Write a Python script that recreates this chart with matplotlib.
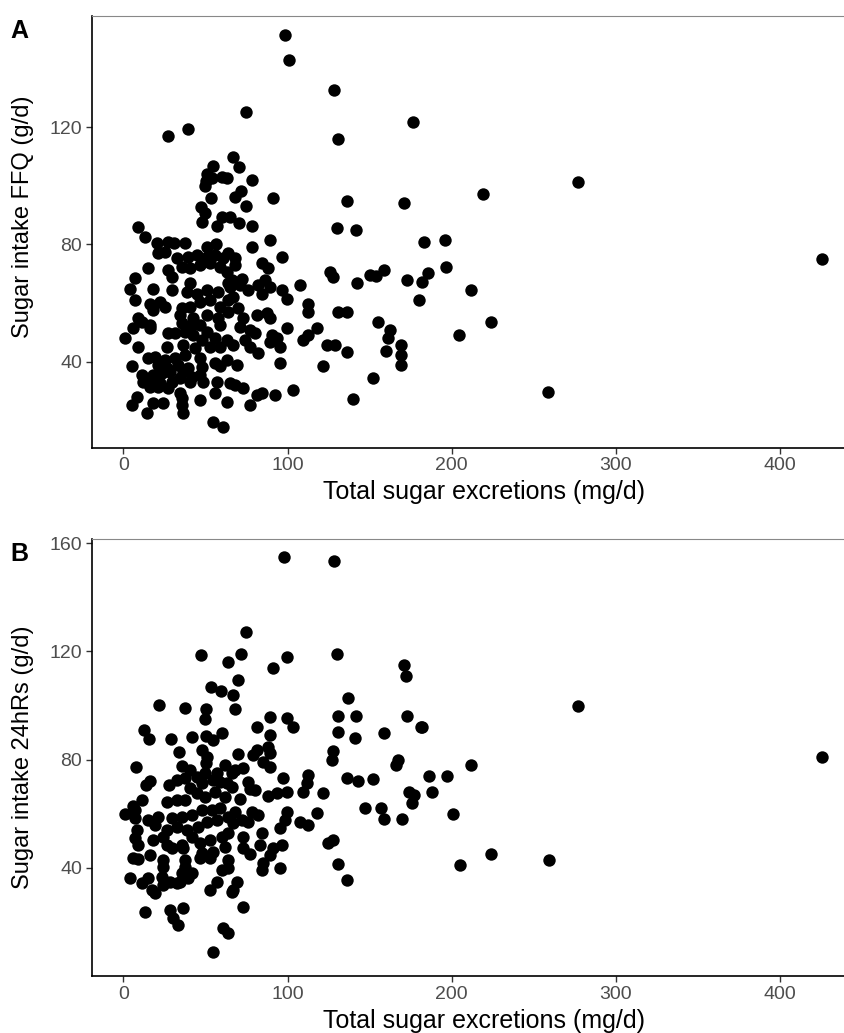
import matplotlib
matplotlib.use('Agg')
import matplotlib.pyplot as plt

plt.rcParams['font.family'] = ['Liberation Sans', 'DejaVu Sans']

# %% data: panel A, total sugar excretion (mg/d) vs FFQ sugar intake (g/d)
ffq_excretion = [
    27.4, 39.6, 54.8, 51.2, 53.8, 59.9, 49.7, 50.3, 53.4, 47.3, 49.7, 47.7, 59.9, 56.8, 9.1, 13.2, 20.3, 27.4, 30.9, 37.6, 51.2, 56.4,
    128.3, 74.7, 131, 67, 70.5, 63, 78.6, 71.5, 68.2, 91, 74.7, 65, 70.5, 78.2, 130, 89.4, 78.6, 136.5, 98.5, 100.9,
    21.3, 25.4, 32.5, 39.6, 44.7, 50.8, 55.8, 60.9, 63.9,
    15.2, 27.4, 29.4, 35.5, 40.6, 46.7, 52.8, 58.9, 62.9,
    7.1, 4.1, 18.3, 29.4, 40.6, 38.6, 44.7, 50.8, 57.9, 63.9,
    7.1, 16.2, 22.3, 25.4, 35.5, 40.6, 46.7, 52.8, 58.9, 63.9,
    18.3, 34.5, 42.6, 50.8, 57.9, 63.9,
    9.1, 11.2, 16.2, 6.1, 16.2, 35.5, 41.6, 46.7, 50.8, 58.9,
    1.0, 27.4, 31.5, 37.6, 42.6, 47.7, 55.8, 62.9,
    9.1, 26.4, 36.5, 43.6, 52.8, 58.9,
    15.2, 19.3, 25.4, 31.5, 37.6, 46.7, 55.8, 62.9,
    5.1, 21.3, 26.4, 33.5, 39.6, 47.7, 58.9,
    11.2, 18.3, 23.3, 28.4, 36.5, 41.6, 46.7,
    12.2, 17.3, 22.3, 29.4, 34.5, 40.6, 48.7, 56.8,
    16.2, 21.3, 27.4, 55.8, 65,
    8.1, 34.5, 35.5, 46.7,
    5.1, 18.3, 24.4, 35.5, 36.5, 14.2, 54.8, 60.9,
    68, 68, 96.5, 84.3, 88.3, 125.9, 127.9, 66, 72.1, 65, 71.1, 76.2, 82.2, 86.3, 89.4, 107.6, 96.5, 99.5, 84.3, 67,
    70.1, 73.1, 81.2, 87.3, 89.4, 112.7, 112.7, 131, 136, 71.1, 77.2, 80.2, 99.5, 90.4, 93.4, 109.7, 112.7, 117.8,
    67, 74.1, 77.2, 89.4, 95.4, 123.9, 128.9, 136, 69.1, 82.2, 95.4, 121.8, 68, 73.1, 81.2, 84.3, 92.4, 103.6, 63, 77.2,
    139.9, 141.9, 142.5, 150.3, 154, 159, 155, 162.2, 161.3, 169, 169, 169, 160, 152, 171, 172.8, 176.6, 180, 181.6,
    185.3, 183, 196.6, 196, 219, 211.7, 204.6, 224, 258.9, 277, 425.3,
]
ffq_intake = [
    116.9, 119.3, 106.7, 103.9, 102.5, 102.9, 99.9, 101.5, 95.7, 92.7, 90.8, 87.8, 89.5, 86.3, 86.1, 82.7, 80.4, 81, 80.6, 80.6, 79.3, 80.2,
    132.6, 125, 115.9, 109.9, 106.3, 102.5, 102.1, 98.3, 96.3, 95.9, 93.1, 89.5, 87.4, 86.3, 85.6, 81.5, 79.3, 94.9, 151.3, 142.8,
    77, 77.5, 75.3, 75.8, 76.4, 75.8, 76.4, 75.3, 77,
    71.9, 71.3, 69, 72.4, 71.9, 73, 73.6, 72.4, 70.7,
    68.5, 65, 65, 64.5, 66.8, 63.9, 63.3, 64.5, 63.9, 66.8,
    61.1, 59.9, 60.5, 58.8, 58.2, 58.8, 60.5, 61.1, 58.8, 61.1,
    57.7, 56, 54.8, 56, 54.8, 57.1,
    54.8, 53.7, 52.6, 51.4, 51.4, 53.1, 52.6, 52.6, 50.3, 52.6,
    48, 49.7, 49.7, 50.3, 49.2, 47.5, 48, 47.5,
    45.2, 45.2, 45.8, 44.6, 45.2, 45.2,
    41.2, 41.8, 40.6, 41.2, 42.4, 41.2, 39.5, 40.6,
    38.6, 38.9, 37.8, 38.9, 37.8, 38.4, 38.6,
    35.5, 35.5, 36.1, 36.7, 36.7, 35, 35.5,
    33.3, 33.3, 32.7, 33.3, 34.4, 33.3, 33.3, 33.3,
    31.6, 31.6, 31, 29.3, 32.7,
    28.2, 29.3, 27.6, 27,
    25.3, 25.9, 26.1, 25.3, 22.5, 22.5, 19.7, 18,
    75.3, 73, 75.8, 73.6, 71.9, 70.7, 69, 67.9, 68.4, 65.6, 66.2, 64.5, 66.2, 67.9, 65.6, 66.2, 64.5, 61.6, 63.3, 62.2,
    58.2, 54.8, 56, 56.5, 54.8, 59.9, 57.1, 57.1, 57.1, 52, 50.9, 49.7, 51.4, 49.2, 48, 47.5, 49.2, 51.4,
    45.7, 47.5, 45.2, 46.9, 45.2, 45.7, 45.7, 43.5, 38.9, 42.9, 39.5, 38.6, 32.1, 31, 28.7, 29.3, 28.7, 30.4, 26.4, 25.3,
    27.4, 85, 66.9, 69.6, 69.3, 71.3, 53.6, 50.9, 48.2, 45.8, 42.4, 39, 43.7, 34.5, 94.1, 68, 121.7, 61.2, 67.2,
    70.3, 80.8, 72.3, 81.6, 97.2, 64.5, 49.2, 53.6, 29.8, 101.3, 75,
]

# %% data: panel B, total sugar excretion (mg/d) vs 24-h recall sugar intake (g/d)
hr_excretion = [
    47.1, 64, 53.2, 59.3, 21.9, 37.6, 50.3, 50, 12.8, 15.8, 29, 41.8, 50.3, 54.8, 60.1,
    98.1, 128.3, 74.7, 71.5, 99.9, 91, 130, 70.1, 67, 68, 136.6, 89.4, 99.5, 103.2, 81.2, 89.4, 131, 131,
    33.9, 47.7, 50.8, 50.3,
    7.5, 35.5, 40.6, 44.7, 49.7, 56.8, 61.9,
    16.2, 13.6, 28, 32.5, 37.6, 40.6, 47.7, 54.8, 62.9,
    11.2, 5.7, 1.0, 7.1, 26.4, 32.5, 37.6, 44.7, 49.7, 55.8, 61.9,
    7.1, 15.2, 21.3, 19.3, 29.4, 35.5, 41.6, 47.7, 53.8, 58.9, 63.9,
    8.1, 26.4, 32.5, 38.6, 45.7, 50.8, 56.8,
    7.1, 18.3, 24.4, 26.4, 35.5, 41.6, 46.7, 52.8, 59.9, 63.9,
    9.1, 29.4, 36.5, 47.7, 54.8, 61.9,
    6.1, 9.1, 16.2, 24.4, 37.6, 46.7, 52.8, 63.9,
    24, 37.6, 41.6, 35.5, 59.9, 63.9,
    4.1, 11.2, 15.2, 23.3, 28.4, 34.5, 39.6, 56.8,
    17.3, 19.3, 24.4, 32.5, 52.8,
    13.2, 28.4, 36.5, 30.5, 33.5, 60.9, 63.9, 54.8,
    70.1, 79.2, 81.2, 88.3, 89.4, 85.3, 89.4, 127.9, 126.9,
    68, 73.1, 66, 58.9, 76.2, 97.5, 112.7, 112.1, 136,
    66, 77.2, 80.2, 88.3, 93.4, 99.5, 109.7, 121.8,
    71.1, 68, 78.2, 82.2, 99.5, 117.8,
    67, 72.1, 76.2, 107.6, 112.7, 95.4, 98.5,
    73.1, 84.3, 83.3, 96.5,
    73.1, 77.2, 91.4, 89.4, 124.9, 127.9,
    85.3, 84.3, 95.4, 131, 136,
    69.1, 66, 67, 73.1,
    142, 141, 143, 147, 152, 157, 159, 159, 166, 167, 170, 171, 172, 173, 174, 176, 177, 181, 182, 186,
    188, 197, 201, 205, 212, 224, 259, 277, 425.3,
]
hr_intake = [
    118.7, 116.2, 106.7, 105.3, 100.3, 98.9, 98.6, 95.2, 90.9, 87.8, 87.8, 88.5, 88.8, 87.2, 89.9,
    155, 153.5, 127.2, 119.2, 117.8, 114, 119.2, 109.6, 103.9, 98.6, 102.6, 95.6, 95.5, 91.9, 92.2, 89.1, 96.1, 90.1,
    83, 83.6, 81.1, 78.7,
    77.2, 77.7, 76.2, 73.7, 75, 75, 78,
    72.3, 70.7, 70.7, 72.5, 73.1, 69.4, 71.3, 72.5, 71.3,
    65.1, 62.9, 59.8, 61.4, 64.5, 65.1, 65.1, 67.6, 66.3, 68.2, 66.3,
    58.3, 57.7, 58.7, 55.9, 58.3, 59, 59.6, 61.4, 61.4, 62, 59,
    54, 54, 55.3, 54, 55.3, 57.1, 57.7,
    50.9, 50.3, 51.6, 48.5, 48.5, 51.6, 49.1, 50.3, 51.6, 52.8,
    48.5, 47.3, 47.3, 45.4, 46, 47.9,
    43.6, 43.2, 44.8, 43, 43, 43.6, 43.6, 43,
    40.5, 40.5, 38, 38, 39.3, 39.9,
    36.2, 34.3, 36.2, 36.8, 35, 35, 36.2, 35,
    31.9, 30.6, 33.7, 34.3, 31.9,
    23.9, 24.5, 25.1, 21.4, 19, 17.7, 15.9, 9.1,
    82.1, 81.7, 83.6, 84.8, 82.3, 79.3, 77.4, 83.3, 79.9,
    76.2, 76.8, 75, 71.9, 71.9, 73.1, 74.3, 71.5, 73.1,
    70, 69.1, 68.8, 66.7, 67.8, 68.2, 68.2, 67.6,
    65.5, 60.8, 60.8, 59.6, 60.8, 60.2,
    56.5, 57.7, 57.1, 57.1, 55.9, 54.7, 57.7,
    51.6, 52.8, 48.5, 48.5,
    47.3, 45.2, 47.3, 44.8, 49.1, 50.3,
    41.7, 39.3, 39.9, 41.5, 35.6,
    34.9, 31.3, 31.9, 25.4,
    96, 88, 72, 62, 73, 62, 58, 90, 78, 80, 58, 115, 111, 96, 68, 64, 67, 92, 92, 74,
    68, 74, 60, 41, 78, 45, 43, 100, 81,
]

panels = [
    ('A', ffq_excretion, ffq_intake, 'Sugar intake FFQ (g/d)', (10.8, 157.9), [40, 80, 120], 0.534),
    ('B', hr_excretion, hr_intake, 'Sugar intake 24hRs (g/d)', (0.1, 161.5), [40, 80, 120, 160], 0.5),
]
x_ticks = [0, 100, 200, 300, 400]

# %% figure
W, H = 845, 1033
fig = plt.figure(figsize=(W / 100, H / 100), dpi=100)
# panel boxes in pixels: left, top, right, bottom
boxes = [(91.8, 15.7, 876, 447.7), (91.8, 539, 876, 976)]

for (tag, xs, ys, ylab, ylim, yt, ylab_y), (l, t, r, b) in zip(panels, boxes):
    ax = fig.add_axes([l / W, 1 - b / H, (r - l) / W, (b - t) / H])
    ax.scatter(xs, ys, s=80, color='black', linewidths=0, zorder=3)
    ax.set_xlim(-19.2, (r - 123.3) / 1.642)
    ax.set_ylim(*ylim)
    ax.set_xticks(x_ticks)
    ax.set_yticks(yt)
    for side in ['left', 'bottom']:
        ax.spines[side].set_linewidth(1.2)
        ax.spines[side].set_color('black')
    ax.spines['top'].set_linewidth(0.8)
    ax.spines['top'].set_color('#888888')
    ax.spines['right'].set_visible(False)
    ax.tick_params(length=4, width=1, color='#333333', labelcolor='#4D4D4D', labelsize=14, pad=3)
    ax.set_xlabel('Total sugar excretions (mg/d)', fontsize=18)
    ax.set_ylabel(ylab, fontsize=17)
    ax.xaxis.set_label_coords((484 - l) / (r - l), -0.075)
    ax.yaxis.set_label_coords((34 - l) / (r - l), ylab_y)
    fig.text(10 / W, 1 - (t + 22) / H, tag, fontsize=18, fontweight='bold')

fig.savefig('out.png', dpi=100)
